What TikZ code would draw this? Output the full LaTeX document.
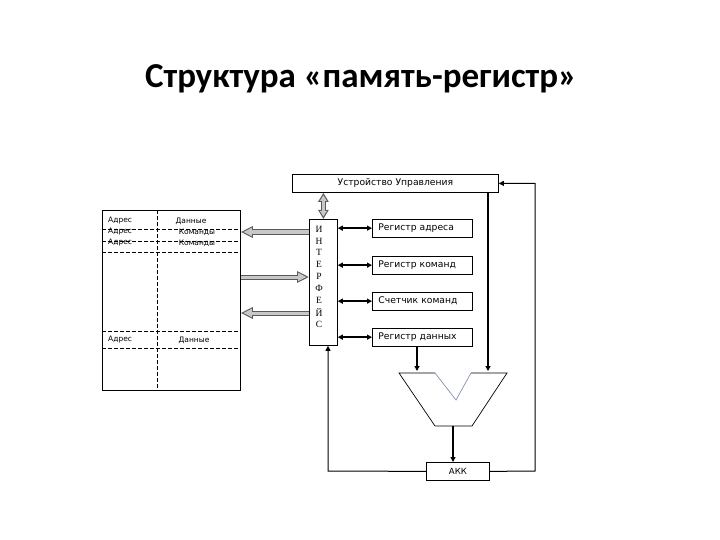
\documentclass[tikz,border=0pt]{standalone}
\usepackage{fontspec}
\setmainfont{DejaVu Sans}
\newfontfamily\titlefont{Carlito}
\newfontfamily\ifont{Liberation Serif}
\usetikzlibrary{arrows.meta,calc}
\definecolor{fatdark}{HTML}{5A5A5A}
\definecolor{fatlight}{HTML}{C8C8C8}
\definecolor{vcol}{HTML}{8890B0}
\begin{document}
\begin{tikzpicture}[x=1pt,y=-1pt,
  box/.style={draw, line width=0.8pt, inner sep=0pt, fill=white},
  regbox/.style={box, text width=88pt, inner xsep=6pt, minimum height=17.5pt, align=left, anchor=north west, font=\fontsize{9.2}{10}\selectfont},
  mt/.style={font=\fontsize{7.5}{8}\selectfont, inner sep=0pt},
  lt/.style={font=\ifont\fontsize{9.5}{10}\selectfont, inner sep=0pt},
  conn/.style={line width=1.4pt, -{Triangle[length=5pt,width=5pt]}},
  thinconn/.style={line width=1pt, -{Triangle[length=5pt,width=5pt]}},
  dconn/.style={line width=1.4pt, {Triangle[length=5pt,width=5pt]}-{Triangle[length=5pt,width=5pt]}},
  fatO/.style={line width=5pt, draw=fatdark, -{Triangle[length=12pt,width=11pt]}},
  fatI/.style={line width=3pt, draw=fatlight, shorten >=2.4pt, -{Triangle[length=8.6pt,width=7.9pt]}},
  fatOD/.style={line width=5pt, draw=fatdark, {Triangle[length=9pt,width=10pt]}-{Triangle[length=9pt,width=10pt]}},
  fatID/.style={line width=3pt, draw=fatlight, shorten >=2.4pt, shorten <=2.4pt, {Triangle[length=5.8pt,width=6.8pt]}-{Triangle[length=5.8pt,width=6.8pt]}},
  memdash/.style={line width=0.8pt, dash pattern=on 4pt off 2pt}
]
\useasboundingbox (0,0) rectangle (720,540);

% title
\node[font=\titlefont\bfseries\fontsize{35}{40}\selectfont, anchor=base] (title) at (361,88) {Структура «память-регистр»};

% memory
\node[box, minimum width=138pt, minimum height=180pt, anchor=north west] (mem) at (102,210) {};
\draw[memdash] (157,210) -- (157,390);
\foreach \yy in {229,241,252,331,348} \draw[memdash] (102,\yy) -- (240,\yy);
\node[mt, anchor=west] (m1a) at (108,221) {Адрес};
\node[mt] (m1b) at (191,221) {Данные};
\node[mt, anchor=west] (m2a) at (108,232) {Адрес};
\node[mt] (m2b) at (197,232) {Команды};
\node[mt, anchor=west] (m3a) at (108,243) {Адрес};
\node[mt] (m3b) at (197,243) {Команды};
\node[mt, anchor=west] (m4a) at (108,340) {Адрес};
\node[mt] (m4b) at (194,340) {Данные};

% control unit
\node[box, minimum width=206pt, minimum height=18pt, anchor=north west, font=\fontsize{9.2}{10}\selectfont] (uu) at (292,174) {Устройство Управления};

% interface
\node[box, minimum width=28pt, minimum height=126pt, anchor=north west] (iface) at (309,219) {};
\foreach \l [count=\i] in {И,Н,Т,Е,Р,Ф,Е,Й,С}
  \node[lt] (L\i) at (319,{229+11.9*(\i-1)}) {\l};

% registers
\node[regbox] (r1) at (372,219) {Регистр адреса};
\node[regbox] (r2) at (372,256) {Регистр команд};
\node[regbox] (r3) at (372,292) {Счетчик команд};
\node[regbox] (r4) at (372,328) {Регистр данных};
\foreach \r in {r1,r2,r3,r4}
  \draw[dconn] (iface.east |- \r) -- (\r.west);

% fat arrows memory <-> interface
\coordinate (y1) at (0,232);
\coordinate (y2) at (0,277);
\coordinate (y3) at (0,313);
\draw[fatO] (iface.west |- y1) -- (mem.east |- y1);
\draw[fatI] (iface.west |- y1) -- (mem.east |- y1);
\draw[fatO] (mem.east |- y2) -- (iface.west |- y2);
\draw[fatI] (mem.east |- y2) -- (iface.west |- y2);
\draw[fatO] (iface.west |- y3) -- (mem.east |- y3);
\draw[fatI] (iface.west |- y3) -- (mem.east |- y3);
\draw[fatOD] (uu.south -| iface.north) -- (iface.north);
\draw[fatID] (uu.south -| iface.north) -- (iface.north);

% ALU
\coordinate (a1) at (399,373);
\coordinate (a2) at (435,373);
\coordinate (av) at (456,400);
\coordinate (a3) at (471,373);
\coordinate (a4) at (507,373);
\coordinate (a5) at (472,426);
\coordinate (a6) at (435,426);
\draw[line width=0.7pt] (a2) -- (a1) -- (a6) -- (a5) -- (a4) -- (a3);
\draw[line width=0.7pt, vcol] (a2) -- (av) -- (a3);

% accumulator
\node[box, minimum width=63pt, minimum height=18pt, anchor=north west, font=\fontsize{8.5}{9}\selectfont] (acc) at (426,462) {АКК};

% connections
\coordinate (ain1) at (417,371);
\coordinate (ain2) at (488,371);
\coordinate (aout) at (453,426);
\draw[conn] (r4.south -| ain1) -- (ain1);
\draw[conn] (uu.south -| ain2) -- (ain2);
\draw[conn] (aout) -- (acc.north -| aout);
\coordinate (fbR) at (535,471);
\coordinate (fbL) at (328,471);
\draw[thinconn] (acc.east) -- (fbR) -- (fbR |- uu.east) -- (uu.east);
\draw[thinconn] (acc.west) -- (fbL) -- (fbL |- iface.south);
\end{tikzpicture}
\end{document}
